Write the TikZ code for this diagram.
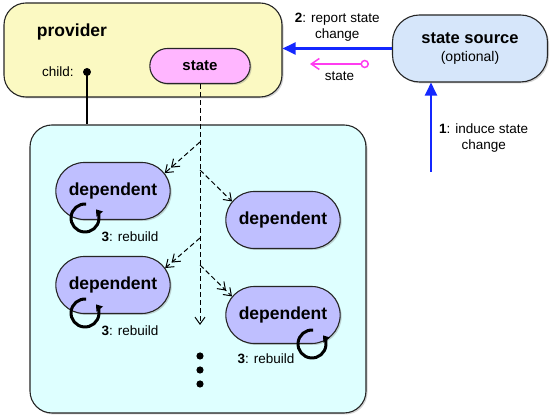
\documentclass[tikz,border=0pt]{standalone}
\usepackage{fontspec}
\setmainfont{Liberation Sans}
\usetikzlibrary{arrows.meta,shapes.misc,shadows,positioning}

\definecolor{provfill}{RGB}{251,249,194}
\definecolor{treefill}{RGB}{222,255,255}
\definecolor{statefill}{RGB}{255,182,255}
\definecolor{depfill}{RGB}{191,191,255}
\definecolor{srcfill}{RGB}{214,230,250}
\definecolor{reportblue}{RGB}{20,40,255}
\definecolor{statepink}{RGB}{255,60,240}

\tikzset{
  shade box/.style={drop shadow={shadow xshift=1.5pt,shadow yshift=-1.5pt,opacity=.35}},
  box/.style={draw=black!85, line width=1.1pt, rounded corners=22pt, fill=#1, shade box},
  pill/.style={rounded rectangle, draw=black!85, line width=1.1pt, fill=#1, shade box,
    font=\fontsize{15}{18}\selectfont\bfseries},
  dep/.style={pill=depfill, minimum width=121pt, minimum height=57pt,
    font=\fontsize{17.5}{20}\selectfont\bfseries},
  lbl/.style={font=\fontsize{13.5}{16}\selectfont, align=center, inner sep=1pt},
  flow/.style={line width=1pt, dash pattern=on 5pt off 3pt},
  barb/.style={-{Straight Barb[length=7pt,width=10pt]}},
  dbarb/.style={-{Straight Barb[length=7pt,width=10pt]Straight Barb[length=7pt,width=10pt]}},
  report/.style={draw=reportblue, line width=2.3pt, -{Triangle[length=13pt,width=12pt]}},
  rebuild/.style={line width=3pt, -{Triangle[length=6pt,width=8pt]}},
}

\begin{document}
\begin{tikzpicture}[x=1pt,y=1pt]
\useasboundingbox (0,0) rectangle (552,420);

% provider and its state
\node[box=provfill, minimum width=278pt, minimum height=94pt] (prov) at (143,370) {};
\node[font=\fontsize{17.5}{20}\selectfont\bfseries] (provname) at (72,388) {provider};
\node[lbl] (child) at (58,348) {child:};
\fill (87,348) circle (4pt) coordinate (childdot);
\node[pill=statefill, minimum width=107pt, minimum height=35pt] (state) at (200,354) {state};

% the subtree below
\node[box=treefill, minimum width=336pt, minimum height=288pt] (tree) at (198,151) {};
\draw[line width=1.1pt] (childdot) -- (childdot |- tree.north);

\node[dep] (d1) at (113,229) {dependent};
\node[dep] (d2) at (283,200) {dependent};
\node[dep] (d3) at (113,135) {dependent};
\node[dep] (d4) at (283,105) {dependent};

% notification flow
\coordinate (trunk) at (200,95);
\coordinate (b1) at (200,278);
\coordinate (b2) at (200,250);
\coordinate (b3) at (200,182);
\coordinate (b4) at (200,155);
\draw[flow, barb] (state.south) -- (trunk);
\draw[flow, dbarb] (b1) -- (d1.19);
\draw[flow, barb] (b2) -- (d2.160);
\draw[flow, dbarb] (b3) -- (d3.18);
\draw[flow, dbarb] (b4) -- (d4.160);

\foreach \y in {64,50,36}
  \fill (200,\y) circle (3.6pt);

% rebuild marks
\foreach \c/\n in {{(85,202)}/r1, {(85,107)}/r2, {(312,76)}/r3}
  \draw[rebuild] \c ++(85:14) arc[start angle=85, end angle=398, radius=14];
\node[lbl] (rb1) at (130,183) {\textbf{3}: rebuild};
\node[lbl] (rb2) at (130,89) {\textbf{3}: rebuild};
\node[lbl] (rb3) at (266,61) {\textbf{3}: rebuild};

% state source
\node[box=srcfill, rounded corners=27pt, minimum width=155pt, minimum height=67pt, align=center] (src) at (470,371.5)
  {{\fontsize{16.5}{19}\selectfont\bfseries state source}\\[6pt]{\fontsize{14}{16}\selectfont (optional)}};

\draw[report] (src.west) -- (src.west -| prov.east)
  node[lbl, midway, above=5pt] (replbl) {\textbf{2}: report state\\change};

\coordinate (pinkfrom) at (369,356);
\coordinate (pinkto) at (310,356);
\draw[statepink, line width=1.5pt, {Straight Barb[length=8pt,width=11pt]}-{Circle[length=8.5pt,fill=white]}] (pinkto) -- (pinkfrom)
  node[lbl, text=black, midway, below=6pt] (pinklbl) {state};

\coordinate (induce) at (431,248);
\draw[report] (induce) -- (induce |- src.south);
\node[lbl, anchor=west] (indlbl) at (438,282) {\textbf{1}: induce state\\change};
\end{tikzpicture}
\end{document}
